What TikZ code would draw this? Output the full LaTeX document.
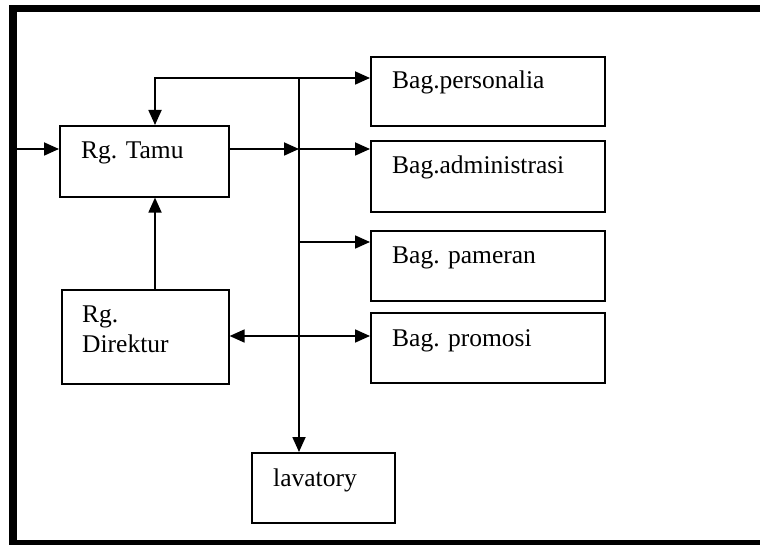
\documentclass[tikz,border=0pt]{standalone}
\usepackage{fontspec}
\setmainfont{Liberation Serif}
\usetikzlibrary{arrows.meta,calc}
\begin{document}
\begin{tikzpicture}[x=1pt,y=-1pt,
  room/.style={draw, line width=1.6pt, inner sep=0pt, anchor=north west},
  lbl/.style={anchor=base west, inner sep=0pt, font=\fontsize{25.5}{30}\selectfont, align=left},
  tip/.tip={Triangle[length=15pt,width=13pt]},
  link/.style={line width=1.8pt, -tip},
  twoway/.style={line width=1.8pt, tip-tip},
  frame/.style={line width=7.5pt}]
\useasboundingbox (0,0) rectangle (760,545);

% heavy page frame, open on the right
\begin{scope}
  \clip (0,0) rectangle (760,545);
  \draw[frame] (775,8.5) -- (13,8.5) -- (13,543.5) -- (775,543.5);
\end{scope}

% rooms
\node[room, minimum width=169pt, minimum height=71pt] (tamu) at (59,125) {};
\node[room, minimum width=167pt, minimum height=94pt] (dir)  at (61,289) {};
\node[room, minimum width=234pt, minimum height=69pt] (pers) at (370,56) {};
\node[room, minimum width=234pt, minimum height=71pt] (adm)  at (370,140) {};
\node[room, minimum width=234pt, minimum height=70pt] (pam)  at (370,230) {};
\node[room, minimum width=234pt, minimum height=70pt] (pro)  at (370,312) {};
\node[room, minimum width=143pt, minimum height=70pt] (lav)  at (251,452) {};

% room names (base anchor of a two-line name sits on its last line)
\node[lbl] (tamu-t) at ($(tamu.north west)+(22,34)$) {Rg. Tamu};
\node[lbl] (dir-t)  at ($(dir.north west)+(21,63)$)  {Rg.\\Direktur};
\node[lbl] (pers-t) at ($(pers.north west)+(22,33)$) {Bag.personalia};
\node[lbl] (adm-t)  at ($(adm.north west)+(22,34)$)  {Bag.administrasi};
\node[lbl] (pam-t)  at ($(pam.north west)+(22,34)$)  {Bag. pameran};
\node[lbl] (pro-t)  at ($(pro.north west)+(22,34)$)  {Bag. promosi};
\node[lbl] (lav-t)  at ($(lav.north west)+(22,34)$)  {lavatory};

% junction points
\coordinate (inlet) at (17,149);
\coordinate (turn)  at (155,78);
\coordinate (top)   at (299,78);
\coordinate (mid)   at (299,149);
\coordinate (side)  at (299,242);
\coordinate (cross) at (299,336);

% connectors
\draw[link] (inlet) -- (inlet -| tamu.west);
\draw[twoway] (turn |- tamu.north) -- (turn) -- (turn -| pers.west);
\draw[link] (top) -- (top |- lav.north);
\draw[link] (mid -| tamu.east) -- (mid);
\draw[link] (mid) -- (mid -| adm.west);
\draw[link] (side) -- (side -| pam.west);
\draw[link] (turn |- dir.north) -- (turn |- tamu.south);
\draw[twoway] (cross -| dir.east) -- (cross -| pro.west);
\end{tikzpicture}
\end{document}
